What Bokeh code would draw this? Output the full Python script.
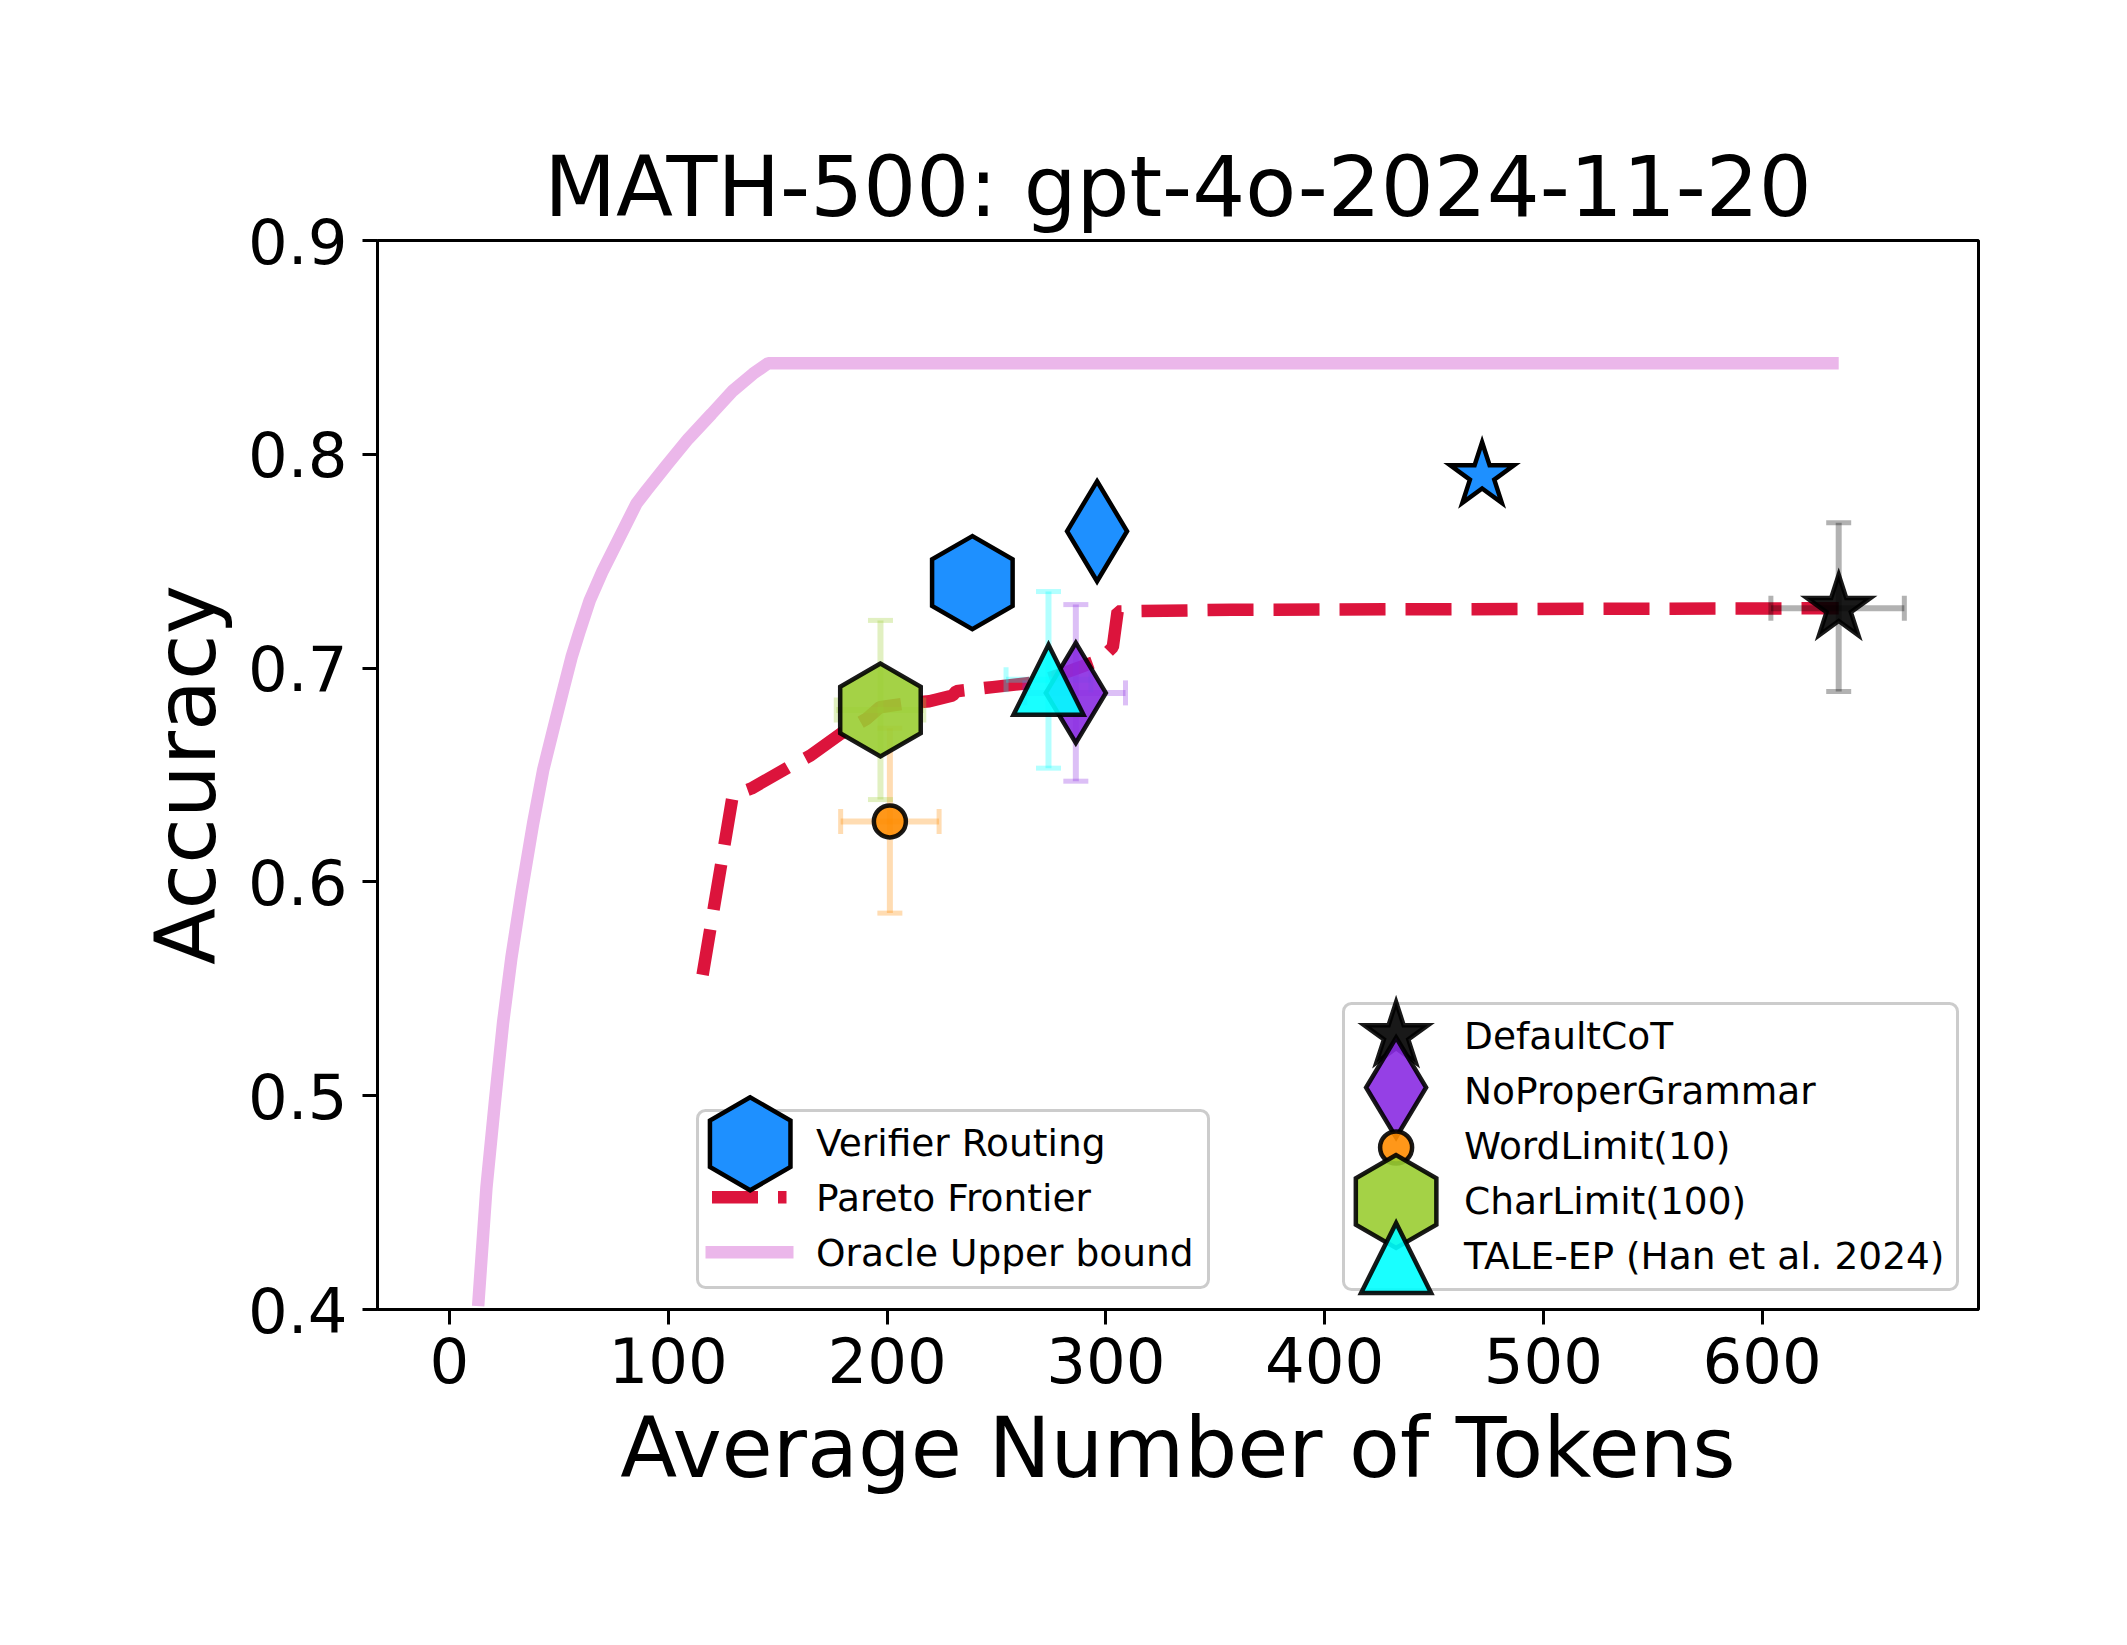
from bokeh.plotting import figure
from bokeh.models import FixedTicker, Range1d, Legend, LegendItem
from bokeh.embed import file_html
from bokeh.resources import INLINE

title = "MATH-500: gpt-4o-2024-11-20"
x_label = "Average Number of Tokens"
y_label = "Accuracy"
x_ticks = [0, 100, 200, 300, 400, 500, 600]
y_ticks = [0.4, 0.5, 0.6, 0.7, 0.8, 0.9]

oracle_x = [13.1, 16.9, 20.7, 24.5, 28.3, 32.9, 38.2, 42.8, 47.6, 51.9, 55.8, 59.6, 64.1, 70.1, 85.5, 90.1, 99.2, 109.1, 119.8, 129.6, 138.8, 145.7, 635]
oracle_y = [0.4016, 0.4571, 0.4965, 0.5342, 0.5645, 0.595, 0.6272, 0.6522, 0.672, 0.6895, 0.7051, 0.7176, 0.7316, 0.7456, 0.777, 0.7831, 0.7948, 0.8072, 0.8189, 0.8298, 0.8377, 0.8426, 0.8426]

pareto_x = [115.7, 129.5, 138, 156.3, 165, 179, 190.7, 196.7, 209.3, 219.4, 230, 231.7, 238.7, 248.3, 268.5, 279.9, 297.4, 303.2, 305.4, 357.7, 635]
pareto_y = [0.5565, 0.6406, 0.6437, 0.6544, 0.6591, 0.6694, 0.6763, 0.6817, 0.6836, 0.6845, 0.6872, 0.6892, 0.69, 0.6911, 0.6934, 0.6973, 0.7039, 0.7098, 0.7265, 0.7273, 0.728]

names = ["DefaultCoT", "NoProperGrammar", "WordLimit(10)", "CharLimit(100)", "TALE-EP (Han et al. 2024)"]
colors = ["#000000", "#8A2BE2", "#FF8C00", "#9ACD32", "#00FFFF"]
markers = ["star", "diamond", "circle", "hex", "triangle"]
mean_x = [635, 286.3, 201.3, 197, 273.8]
mean_y = [0.728, 0.6884, 0.6283, 0.6804, 0.6945]
x_low = [604, 263, 178.8, 176.8, 254.4]
x_high = [665, 309, 223.8, 216.8, 293.2]
y_low = [0.689, 0.6471, 0.5854, 0.6385, 0.6532]
y_high = [0.768, 0.7297, 0.6719, 0.7223, 0.7358]

star_xy = (472, 0.790)
diamond_xy = (296, 0.764)
hexagon_xy = (239, 0.740)

route_names = ["Verifier Routing", "Pareto Frontier", "Oracle Upper bound"]

FW, FH = 1601, 1069
PX_X = FW / 731.8
PX_Y = FH / 0.5
FONT = "DejaVu Sans"

p = figure(frame_width=FW, frame_height=FH, x_range=Range1d(-32.9, 698.9), y_range=Range1d(0.4, 0.9),
           min_border_left=377, min_border_right=120, min_border_top=240, min_border_bottom=300,
           output_backend="svg", toolbar_location=None, title=title, background_fill_color="white")
p.extra_x_ranges["lx"] = Range1d(0, FW)
p.extra_y_ranges["ly"] = Range1d(0, FH)

p.title.text_font = FONT
p.title.text_font_size = "83.3px"
p.title.text_font_style = "normal"
p.title.text_color = "black"
p.title.align = "center"
p.title.offset = -2
p.title.standoff = 10
p.grid.visible = False
p.outline_line_color = "black"
p.outline_line_width = 3

for ax, lab, ticks, tick_off, lab_off in ((p.xaxis, x_label, x_ticks, 12, 14), (p.yaxis, y_label, y_ticks, 15, 10)):
    ax.axis_label = lab
    ax.ticker = FixedTicker(ticks=ticks)
    ax.axis_label_text_font = FONT
    ax.axis_label_text_font_size = "83.2px"
    ax.axis_label_text_font_style = "normal"
    ax.axis_label_text_color = "black"
    ax.major_label_text_font = FONT
    ax.major_label_text_font_size = "62.5px"
    ax.major_label_text_color = "black"
    ax.major_tick_out = 15
    ax.major_tick_in = 0
    ax.minor_tick_out = 0
    ax.minor_tick_in = 0
    ax.major_tick_line_width = 3
    ax.axis_line_width = 3
    ax.major_label_standoff = tick_off
    ax.axis_label_standoff = lab_off

def thin_diamond(cx, cy, h, sx, sy):
    return [[cx, cx + 0.3 * h / sx, cx, cx - 0.3 * h / sx], [cy + h / 2 / sy, cy, cy - h / 2 / sy, cy]]

def tri(cx, cy, h, sx, sy):
    return [[cx - h / 2 / sx, cx + h / 2 / sx, cx], [cy - h / 2 / sy, cy - h / 2 / sy, cy + h / 2 / sy]]

DH, TH, SS, CS, HS = 100, 70, 67, 32, 93
ORACLE_COLOR, PARETO_COLOR = "#EBB7EA", "#DC143C"

oracle_line = p.line(oracle_x, oracle_y, line_color=ORACLE_COLOR, line_width=12.5)
pareto_line = p.line(pareto_x, pareto_y, line_color=PARETO_COLOR, line_width=12.5, line_dash="46 20")

marker_kw = dict(line_color="black", line_width=4.5, line_join="miter")
for i, n in enumerate(names):
    c = colors[i]
    p.segment([x_low[i]], [mean_y[i]], [x_high[i]], [mean_y[i]], line_color=c, line_alpha=0.3, line_width=6)
    p.segment([mean_x[i]], [y_low[i]], [mean_x[i]], [y_high[i]], line_color=c, line_alpha=0.3, line_width=6)
    p.scatter([mean_x[i], mean_x[i]], [y_low[i], y_high[i]], marker="dash", size=25, line_color=c, line_alpha=0.3, line_width=5)
    p.scatter([x_low[i], x_high[i]], [mean_y[i], mean_y[i]], marker="dash", size=25, angle=1.5708, line_color=c, line_alpha=0.3, line_width=5)

kw = dict(fill_alpha=0.9, line_alpha=0.9, **marker_kw)
handle_kw = dict(x_range_name="lx", y_range_name="ly", fill_alpha=0.9, line_alpha=0.9, **marker_kw)
row_y = [274, 222, 162, 108, 51.5]
hx = 1018.6

p.scatter([mean_x[0]], [mean_y[0]], marker="star", size=SS, fill_color=colors[0], **kw)
xs, ys = thin_diamond(mean_x[1], mean_y[1], DH, PX_X, PX_Y)
p.patch(xs, ys, fill_color=colors[1], **kw)
p.scatter([mean_x[2]], [mean_y[2]], marker="circle", size=CS, fill_color=colors[2], **kw)
p.scatter([mean_x[3]], [mean_y[3]], marker="hex", size=HS, angle=1.5708, fill_color=colors[3], **kw)
xs, ys = tri(mean_x[4], mean_y[4], TH, PX_X, PX_Y)
p.patch(xs, ys, fill_color=colors[4], **kw)

bkw = dict(fill_color="#1E90FF", **marker_kw)
p.scatter([star_xy[0]], [star_xy[1]], marker="star", size=SS, **bkw)
xs, ys = thin_diamond(diamond_xy[0], diamond_xy[1], DH, PX_X, PX_Y)
p.patch(xs, ys, **bkw)
p.scatter([hexagon_xy[0]], [hexagon_xy[1]], marker="hex", size=HS, angle=1.5708, **bkw)

# transparent stand-ins that give the legends their entries
proxies = [p.scatter([mean_x[i]], [mean_y[i]], marker=markers[i], size=10, fill_alpha=0, line_alpha=0) for i in range(5)]
route_proxy = p.scatter([hexagon_xy[0]], [hexagon_xy[1]], marker="hex", size=10, fill_alpha=0, line_alpha=0)
pareto_proxy = p.line(pareto_x, pareto_y, line_alpha=0)
oracle_proxy = p.line(oracle_x, oracle_y, line_alpha=0)

common_legend = dict(margin=0, padding=11, glyph_height=8, spacing=11, label_text_font=FONT, label_text_color="black",
                     label_text_font_size="37.5px", label_height=41, border_line_alpha=0, background_fill_alpha=0)
legend1 = Legend(items=[LegendItem(label=n, renderers=[r]) for n, r in zip(names, proxies)],
                 location=(966, 20), glyph_width=84, label_standoff=26, label_width=481, **common_legend)
legend2 = Legend(items=[LegendItem(label=route_names[0], renderers=[route_proxy]),
                        LegendItem(label=route_names[1], renderers=[pareto_proxy]),
                        LegendItem(label=route_names[2], renderers=[oracle_proxy])],
                 location=(320, 23), glyph_width=86, label_standoff=22, label_width=380, **common_legend)
p.add_layout(legend1)
p.add_layout(legend2)

# legend frames and large legend handles
lkw = dict(x_range_name="lx", y_range_name="ly")
p.quad(left=[966, 320], right=[1580, 831], bottom=[20, 22], top=[306, 199], fill_color="white", fill_alpha=0.8,
       line_color="#CCCCCC", line_width=3, border_radius=8, **lkw)
p.scatter([hx], [row_y[0]], marker="star", size=SS, fill_color=colors[0], **handle_kw)
xs, ys = thin_diamond(hx, row_y[1], DH, 1, 1)
p.patch(xs, ys, fill_color=colors[1], **handle_kw)
p.scatter([hx], [row_y[2]], marker="circle", size=CS, fill_color=colors[2], **handle_kw)
p.scatter([hx], [row_y[3]], marker="hex", size=HS, angle=1.5708, fill_color=colors[3], **handle_kw)
xs, ys = tri(hx, row_y[4], TH, 1, 1)
p.patch(xs, ys, fill_color=colors[4], **handle_kw)
p.line([334.5, 409], [112.3, 112.3], line_color=PARETO_COLOR, line_width=12.5, line_dash="46 20", **lkw)
p.line([328, 416], [57.3, 57.3], line_color=ORACLE_COLOR, line_width=12.5, **lkw)
p.scatter([372.7], [165.7], marker="hex", size=HS, angle=1.5708, fill_color="#1E90FF", **lkw, **marker_kw)

open("out.html", "w").write(file_html(p, INLINE))
